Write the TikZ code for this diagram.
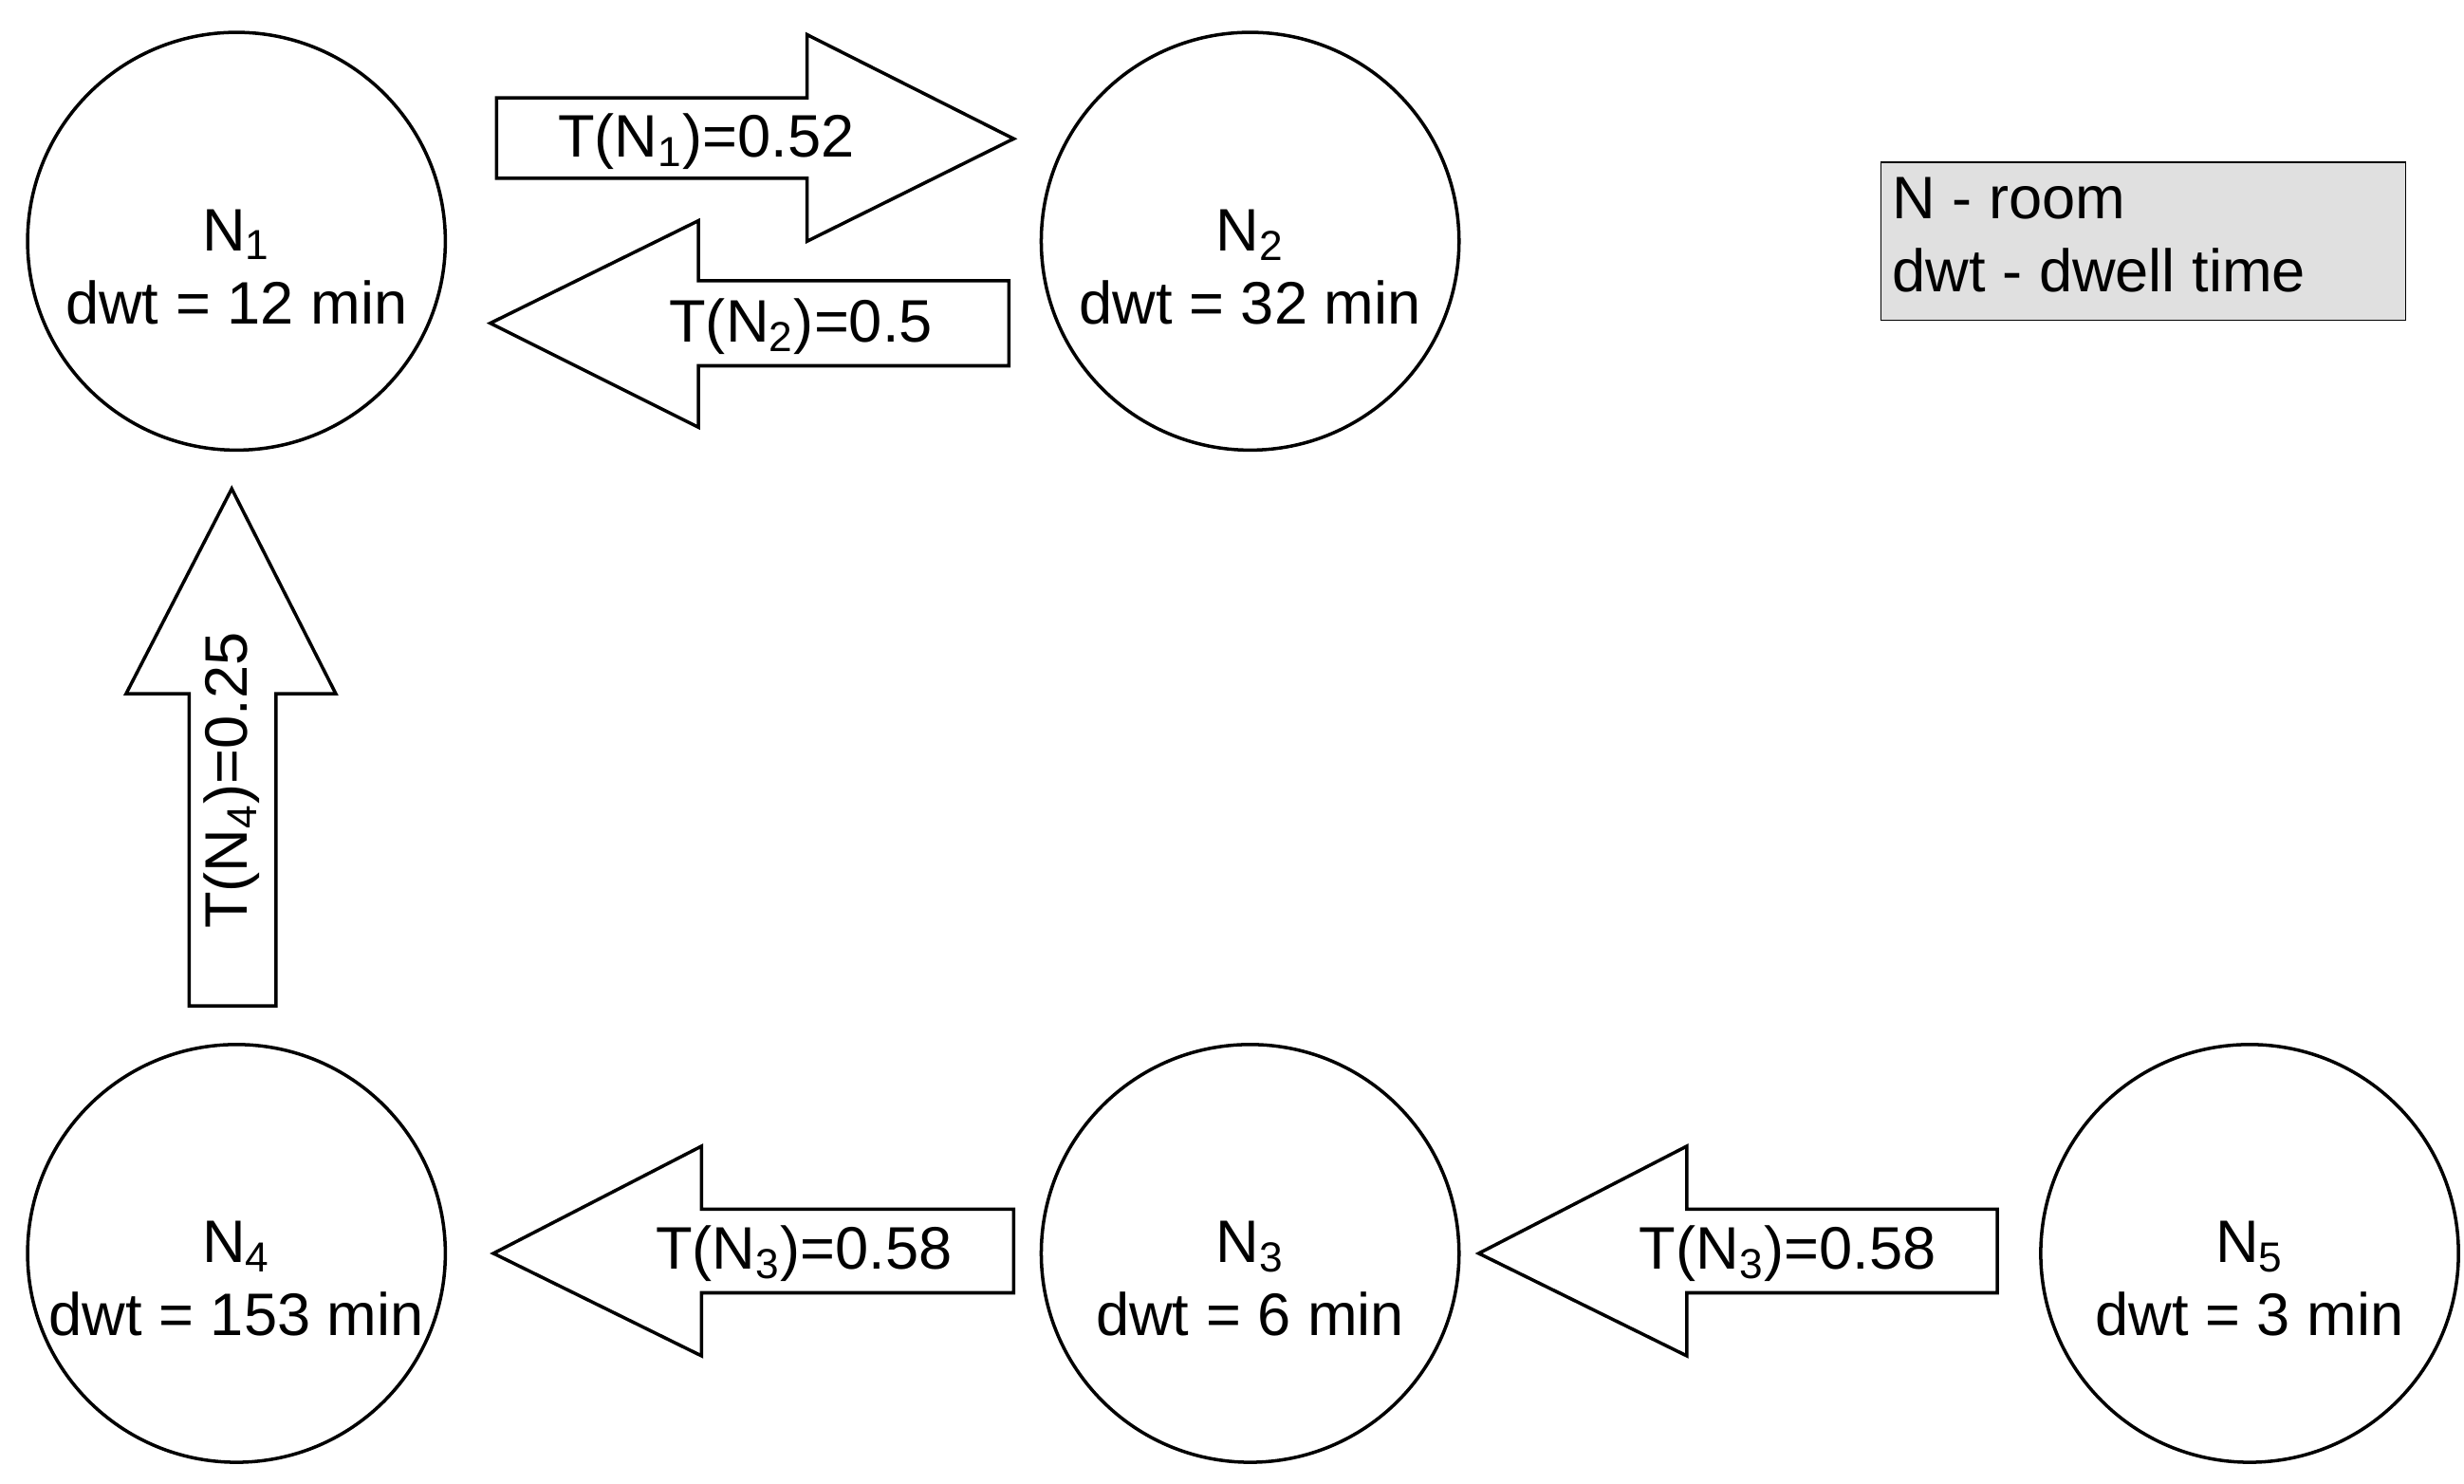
\documentclass[tikz,border=0pt]{standalone}
\usepackage{fontspec}
\setmainfont{Liberation Sans}
\usetikzlibrary{positioning}

\tikzset{
  room/.style={draw, circle, line width=1pt, minimum size=265*0.016635cm},
  rtext/.style={align=center, font=\fontsize{18}{22}\selectfont, yshift=-0.27cm},
  blk/.style={draw, fill=white, line width=1pt},
  lbl/.style={font=\fontsize{18}{22}\selectfont, inner sep=0pt}
}
\newcommand{\sub}[1]{\textsubscript{#1}}

\begin{document}
\begin{tikzpicture}[x=0.016635cm, y=-0.016635cm]
    \useasboundingbox (0,0) rectangle (1563,941);

    % rooms
    \node[room, label={[rtext]center:N\sub{1}\\dwt = 12 min}] (N1) at (150,153) {};
    \node[room, label={[rtext]center:N\sub{2}\\dwt = 32 min}] (N2) at (793,153) {};
    \node[room, label={[rtext]center:N\sub{4}\\dwt = 153 min}] (N4) at (150,795) {};
    \node[room, label={[rtext]center:N\sub{3}\\dwt = 6 min}] (N3) at (793,795) {};
    \node[room, label={[rtext]center:N\sub{5}\\dwt = 3 min}] (N5) at (1427,795) {};

    % block arrows
    \draw[blk] (315,62) -- (512,62) -- (512,22) -- (643,88) -- (512,153) -- (512,113) -- (315,113) -- cycle;
    \node[lbl] (t1) at (448,90) {T(N\sub{1})=0.52};

    \draw[blk] (640,178) -- (443,178) -- (443,140) -- (311,205) -- (443,271) -- (443,232) -- (640,232) -- cycle;
    \node[lbl] (t2) at (508,207) {T(N\sub{2})=0.5};

    \draw[blk] (120,638) -- (120,440) -- (80,440) -- (147,310) -- (213,440) -- (175,440) -- (175,638) -- cycle;
    \node[lbl, rotate=90] (t4) at (147,495) {T(N\sub{4})=0.25};

    \draw[blk] (643,767) -- (445,767) -- (445,727) -- (313,795) -- (445,860) -- (445,820) -- (643,820) -- cycle;
    \node[lbl] (t3a) at (510,795) {T(N\sub{3})=0.58};

    \draw[blk] (1267,767) -- (1070,767) -- (1070,727) -- (938,795) -- (1070,860) -- (1070,820) -- (1267,820) -- cycle;
    \node[lbl] (t3b) at (1134,795) {T(N\sub{3})=0.58};

    % legend
    \draw[fill=black!12] (1193,103) rectangle (1526,203);
    \node[lbl, anchor=north west, align=left] (key) at (1200,112) {N - room\\dwt - dwell time};
\end{tikzpicture}
\end{document}
